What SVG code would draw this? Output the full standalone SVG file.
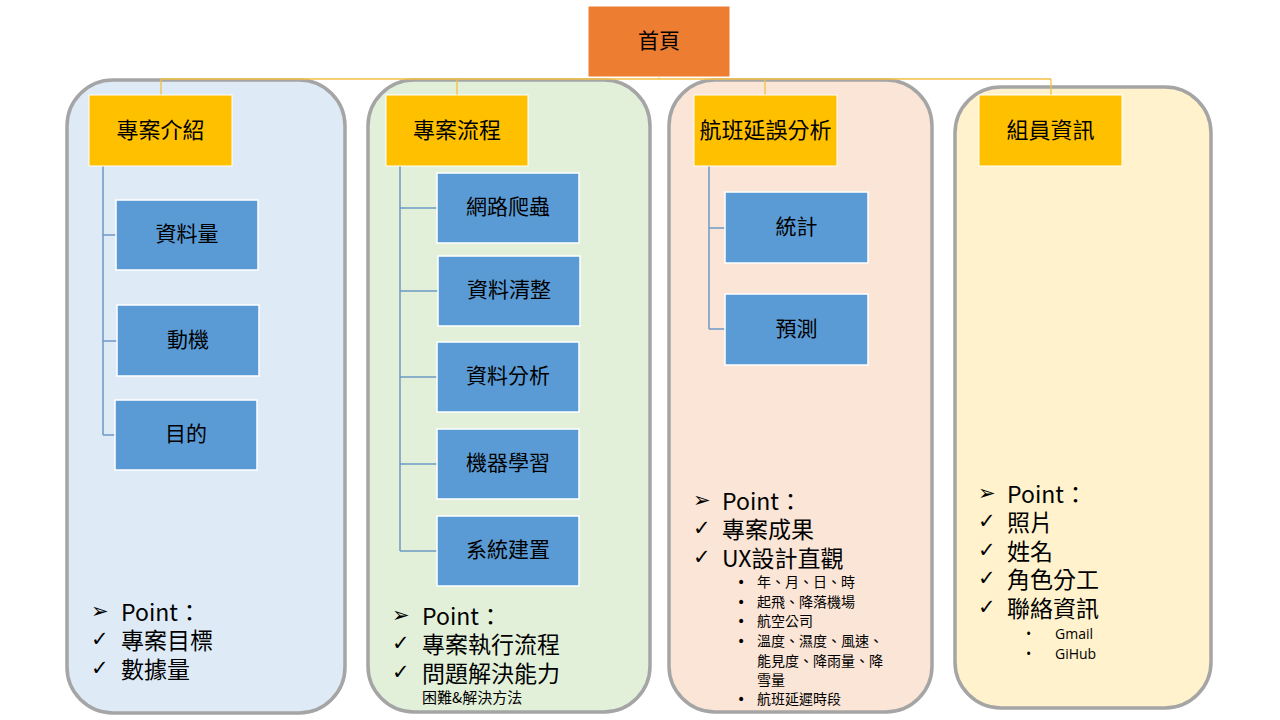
<svg xmlns="http://www.w3.org/2000/svg" width="1280" height="720" viewBox="0 0 1280 720">
<style>
.panel{stroke:#A5A5A5;stroke-width:3.5}
.top{fill:#ED7D31;stroke:#FFFFFF;stroke-width:1}
.hdr{fill:#FFC000;stroke:#FFFFFF;stroke-width:1}
.child{fill:#5B9BD5;stroke:#FFFFFF;stroke-width:1.5}
.lbl{font-family:"Noto Sans CJK TC","Noto Sans CJK SC",sans-serif;font-size:21px;fill:#000;text-anchor:middle;dominant-baseline:central}
.hl{font-size:22px}
.pt{font-family:"Noto Sans CJK TC","Noto Sans CJK SC",sans-serif;font-size:23px;fill:#000;dominant-baseline:central}
.sym{font-family:"DejaVu Sans",sans-serif;font-size:21px;fill:#000;dominant-baseline:central}
.sm{font-family:"Noto Sans CJK TC","Noto Sans CJK SC",sans-serif;font-size:14px;fill:#000;dominant-baseline:central}
.dot{font-family:"DejaVu Sans",sans-serif;font-size:14px;fill:#000;dominant-baseline:central}
.lat{font-family:"Open Sans","Noto Sans",sans-serif;font-size:14px;fill:#000;dominant-baseline:central}
.ylink{fill:none;stroke:#F2C043;stroke-width:1.3}
.blink{fill:none;stroke:#6E99C3;stroke-width:1.5}
</style>

<g id="panels">
  <rect class="panel" x="67" y="80" width="278" height="633" rx="46" fill="#DEEBF7"/>
  <rect class="panel" x="368" y="80" width="282" height="632" rx="46" fill="#E2F0D9"/>
  <rect class="panel" x="669" y="80" width="263" height="632" rx="46" fill="#FBE5D6"/>
  <rect class="panel" x="955" y="87" width="256" height="621" rx="46" fill="#FFF2CC"/>
</g>

<g id="connectors">
  <path class="ylink" d="M659 77V79M161 79H1051M161 79V95M457 79V95M765 79V95M1051 79V95"/>
  <path class="blink" d="M103 166V435M103 235H116M103 341H117M103 435H115"/>
  <path class="blink" d="M400 166V551M400 208H437M400 291H438M400 377H437M400 464H437M400 551H437"/>
  <path class="blink" d="M709 166V329M709 228H725M709 329H725"/>
</g>

<g id="home"><rect class="top" x="588" y="6" width="142" height="71"/><text class="lbl" x="659" y="38.5">首頁</text></g>

<g id="intro"><rect class="hdr" x="89" y="95" width="143" height="71"/><text class="lbl hl" x="160.5" y="127.5">專案介紹</text></g>
<g id="flow"><rect class="hdr" x="386" y="95" width="142" height="71"/><text class="lbl hl" x="457" y="127.5">專案流程</text></g>
<g id="delay"><rect class="hdr" x="694" y="95" width="143" height="71"/><text class="lbl hl" x="765.5" y="127.5">航班延誤分析</text></g>
<g id="members"><rect class="hdr" x="979" y="95" width="143" height="71"/><text class="lbl hl" x="1050.5" y="127.5">組員資訊</text></g>

<g id="c1a"><rect class="child" x="116" y="200" width="142" height="70"/><text class="lbl" x="187" y="232">資料量</text></g>
<g id="c1b"><rect class="child" x="117" y="305" width="142" height="71"/><text class="lbl" x="188" y="337.5">動機</text></g>
<g id="c1c"><rect class="child" x="115" y="400" width="142" height="70"/><text class="lbl" x="186" y="432">目的</text></g>

<g id="c2a"><rect class="child" x="437" y="173" width="142" height="70"/><text class="lbl" x="508" y="205">網路爬蟲</text></g>
<g id="c2b"><rect class="child" x="438" y="256" width="142" height="70"/><text class="lbl" x="509" y="288">資料清整</text></g>
<g id="c2c"><rect class="child" x="437" y="342" width="142" height="70"/><text class="lbl" x="508" y="374">資料分析</text></g>
<g id="c2d"><rect class="child" x="437" y="429" width="142" height="70"/><text class="lbl" x="508" y="461">機器學習</text></g>
<g id="c2e"><rect class="child" x="437" y="516" width="142" height="70"/><text class="lbl" x="508" y="548">系統建置</text></g>

<g id="c3a"><rect class="child" x="725" y="192" width="143" height="71"/><text class="lbl" x="796.5" y="224.5">統計</text></g>
<g id="c3b"><rect class="child" x="725" y="294" width="143" height="71"/><text class="lbl" x="796.5" y="326.5">預測</text></g>

<g id="notes1">
  <text class="sym" x="91" y="611">➢</text><text class="pt" x="121" y="611">Point：</text>
  <text class="sym" x="91" y="639">✓</text><text class="pt" x="121" y="639">專案目標</text>
  <text class="sym" x="91" y="668">✓</text><text class="pt" x="121" y="668">數據量</text>
</g>
<g id="notes2">
  <text class="sym" x="392" y="615">➢</text><text class="pt" x="422" y="615">Point：</text>
  <text class="sym" x="392" y="643">✓</text><text class="pt" x="422" y="643">專案執行流程</text>
  <text class="sym" x="392" y="672">✓</text><text class="pt" x="422" y="672">問題解決能力</text>
  <text class="sm" x="422" y="696" style="font-size:15px">困難&amp;解決方法</text>
</g>
<g id="notes3">
  <text class="sym" x="693" y="500">➢</text><text class="pt" x="722" y="500">Point：</text>
  <text class="sym" x="693" y="528">✓</text><text class="pt" x="722" y="528">專案成果</text>
  <text class="sym" x="693" y="557">✓</text><text class="pt" x="722" y="557">UX設計直觀</text>
  <text class="dot" x="737" y="582">•</text><text class="sm" x="757" y="581">年、月、日、時</text>
  <text class="dot" x="737" y="602">•</text><text class="sm" x="757" y="601">起飛、降落機場</text>
  <text class="dot" x="737" y="621">•</text><text class="sm" x="757" y="620">航空公司</text>
  <text class="dot" x="737" y="641">•</text><text class="sm" x="757" y="640">溫度、濕度、風速、</text>
  <text class="sm" x="757" y="660">能見度、降雨量、降</text>
  <text class="sm" x="757" y="679">雪量</text>
  <text class="dot" x="737" y="699">•</text><text class="sm" x="757" y="698">航班延遲時段</text>
</g>
<g id="notes4">
  <text class="sym" x="978" y="493">➢</text><text class="pt" x="1007" y="493">Point：</text>
  <text class="sym" x="978" y="521">✓</text><text class="pt" x="1007" y="521">照片</text>
  <text class="sym" x="978" y="550">✓</text><text class="pt" x="1007" y="550">姓名</text>
  <text class="sym" x="978" y="578">✓</text><text class="pt" x="1007" y="578">角色分工</text>
  <text class="sym" x="978" y="607">✓</text><text class="pt" x="1007" y="607">聯絡資訊</text>
  <text class="lat" x="1026" y="633">•</text><text class="lat" x="1055" y="633">Gmail</text>
  <text class="lat" x="1026" y="653">•</text><text class="lat" x="1055" y="653">GiHub</text>
</g>
</svg>
